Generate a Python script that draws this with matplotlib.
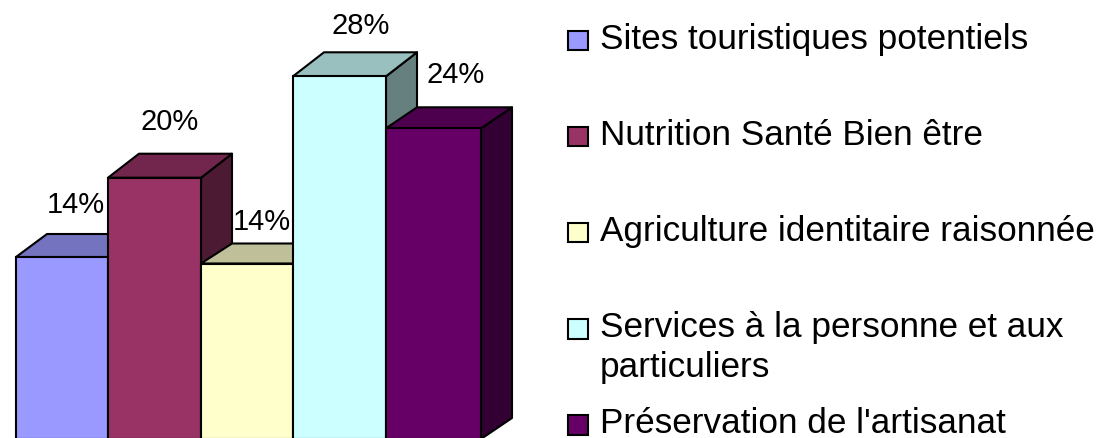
import matplotlib
matplotlib.use("Agg")
import matplotlib.pyplot as plt
from matplotlib.patches import Polygon, Rectangle
from matplotlib.colors import to_rgb

categories = ["Sites touristiques potentiels", "Nutrition Santé Bien être",
              "Agriculture identitaire raisonnée",
              "Services à la personne et aux\nparticuliers",
              "Préservation de l'artisanat"]
values = [14.0, 20.1, 13.5, 27.9, 23.9]
value_labels = ["14%", "20%", "14%", "28%", "24%"]
colors = ["#9999FF", "#993366", "#FFFFCC", "#CCFFFF", "#660066"]

W, H = 1099, 438
PX = 13.0            # pixels per percentage point
BASE = 439           # pixel row of value 0
edges = [16, 108, 201, 293, 386, 481]
DX = 31
depths = [23, 24, 20, 24, 21]
plt.rcParams["font.family"] = ["Liberation Sans", "DejaVu Sans"]

fig = plt.figure(figsize=(W/100, H/100), dpi=100)
ax = fig.add_axes([0, 0, 1, 1])
ax.set_xlim(0, W)
ax.set_ylim((BASE-H)/PX, BASE/PX)
ax.axis("off")

def shade(c, f):
    return tuple(x*f for x in to_rgb(c))

def row(y):
    return (BASE-y)/PX

lab_pos = [(76, 205), (170, 122), (262, 222), (361, 26), (456, 75)]
LW = 1.5
for i, (v, c, lab) in enumerate(zip(values, colors, value_labels)):
    x0, x1 = edges[i], edges[i+1]
    dv = depths[i]/PX
    side = Polygon([(x1, 0), (x1+DX, dv), (x1+DX, v+dv), (x1, v)], closed=True,
                   fc=shade(c, 0.5), ec="black", lw=LW, zorder=i*2+1, joinstyle="round")
    top = Polygon([(x0, v), (x0+DX, v+dv), (x1+DX, v+dv), (x1, v)], closed=True,
                  fc=shade(c, 0.75), ec="black", lw=LW, zorder=i*2+1, joinstyle="round")
    ax.add_patch(side)
    ax.add_patch(top)
    ax.bar(x0, v, width=x1-x0, align="edge", color=c, ec="black", lw=LW, zorder=i*2+2)
    ax.text(lab_pos[i][0], row(lab_pos[i][1]), lab, ha="center", va="center",
            fontsize=21, color="black", zorder=20)

square_top = [31, 127, 223, 319, 415]
baselines = [49, 145, 241, 337, 433]
for c, name, s, y in zip(colors, categories, square_top, baselines):
    ax.add_patch(Rectangle((568, row(s+19.5)), 20, 19.5/PX, fc=c, ec="black", lw=LW, zorder=20))
    lines = name.split("\n")
    ax.text(600, row(y), lines[0], fontsize=25.3, va="baseline", ha="left", zorder=20)
    if len(lines) > 1:
        ax.text(600, row(y+40), lines[1], fontsize=25.3, va="baseline", ha="left", zorder=20)

fig.savefig("out.png", dpi=100, facecolor="white")
